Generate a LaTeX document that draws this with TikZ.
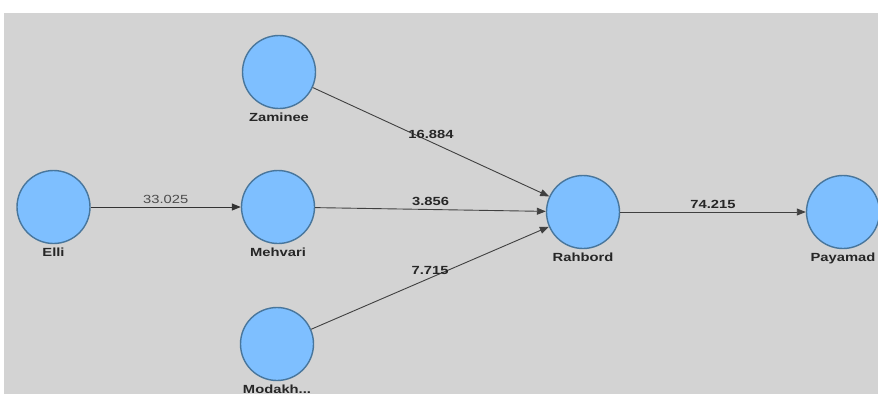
\documentclass[tikz,border=0pt]{standalone}
\usepackage{fontspec}
\usepackage{tikz}
\usetikzlibrary{arrows.meta, positioning}
\usepackage{xcolor}

\newfontfamily\plsfont[FakeStretch=1.25]{Liberation Sans}
\definecolor{lvfill}{RGB}{126,191,255}
\definecolor{lvborder}{RGB}{72,118,156}
\definecolor{plsback}{RGB}{211,211,211}
\definecolor{pathline}{RGB}{64,64,64}

\begin{document}
\begin{tikzpicture}[x=1pt,y=-1pt]
                    \tikzstyle{latent} = [
	shape=circle,
	draw=lvborder, %border of the construct
	fill=lvfill, %fill of the construct
	line width=1.4pt,
	minimum size=73pt, %diameter of the constructs
	inner sep=0pt,
	label={[font=\plsfont\bfseries\fontsize{11.8}{13}\selectfont, text=black!85, inner sep=1pt, yshift=-3pt]below:#1}
];
\tikzstyle{coef} = [
	font=\plsfont\bfseries\fontsize{11.8}{13}\selectfont,
	text=black!85,
	midway, above=2pt, inner sep=1pt
];

\useasboundingbox (0,0) rectangle (878,394);
\fill[white] (0,0) rectangle (878,394);
\fill[plsback] (4,13) rectangle (878,394);

%exogenous constructs
\node[latent=Elli](Elli) at (53.5,207) {};
\node[latent=Zaminee](Zaminee) at (279,72) {};
\node[latent=Mehvari](Mehvari) at (278,207) {};
\node[latent=Modakh...](Modakh) at (277,344) {};

%endogenous constructs
\node[latent=Rahbord](Rahbord) at (583,212) {};
\node[latent=Payamad](Payamad) at (843,212) {};

%first path
\draw[-{Triangle[length=9pt,width=7pt]}, line width=1pt, color=black!80]
	(Elli) edge[] node[coef, font=\plsfont\fontsize{11.8}{13}\selectfont, text=black!70] {33.025} (Mehvari)
;

%inner model
\draw[-{Triangle[length=9pt,width=7pt]}, line width=0.9pt, color=pathline]
	(Zaminee) edge[] node[coef] {16.884} (Rahbord)
	(Mehvari) edge[] node[coef] {3.856} (Rahbord)
	(Modakh) edge[] node[coef] {7.715} (Rahbord)
	(Rahbord) edge[] node[coef] {74.215} (Payamad)
;

                \end{tikzpicture}
\end{document}
